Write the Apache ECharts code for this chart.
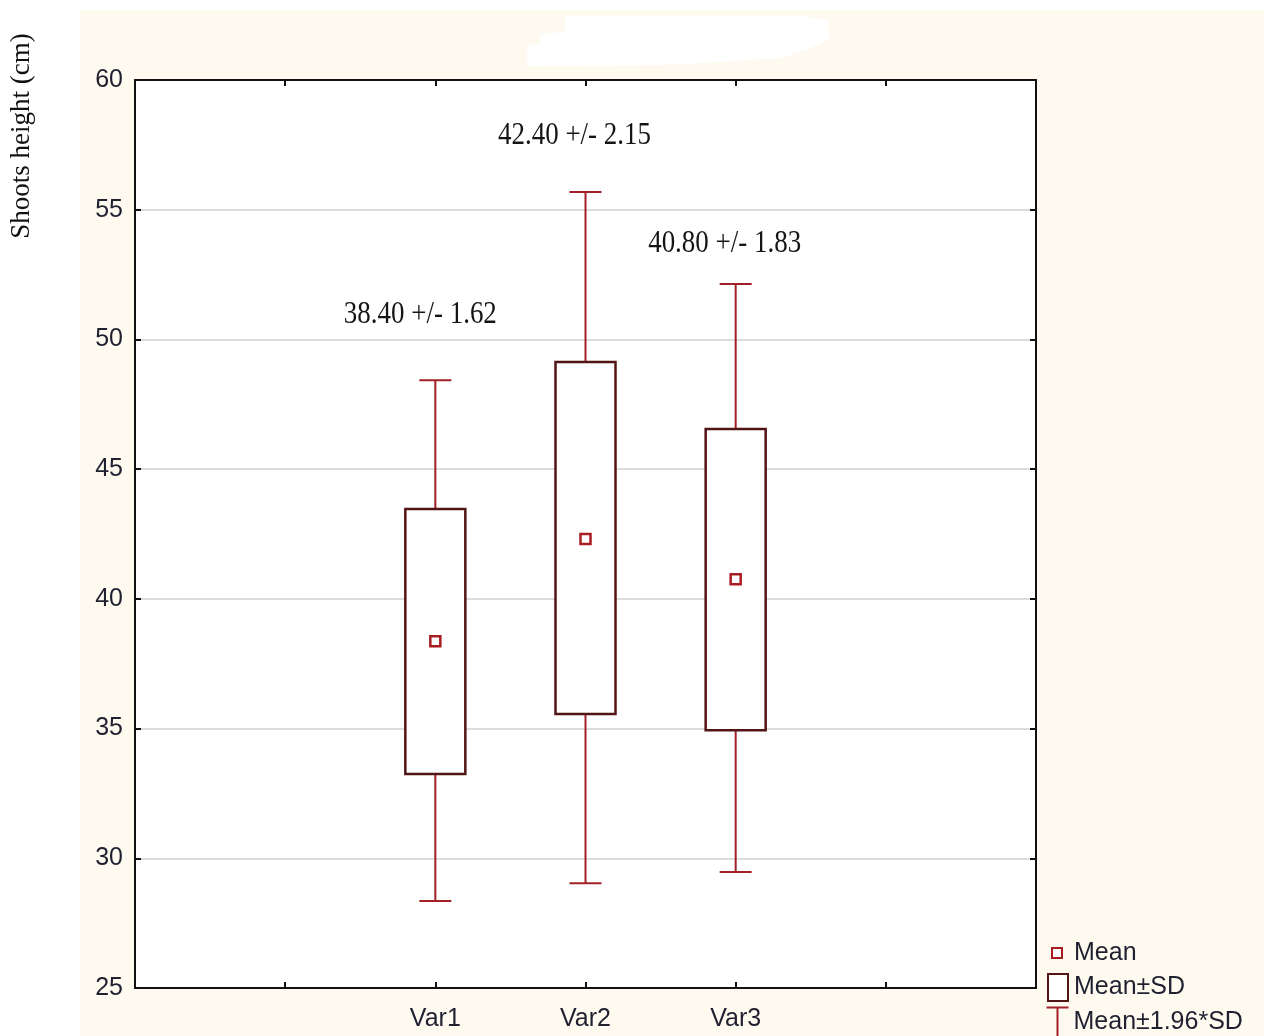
<!DOCTYPE html>
<html>
<head>
<meta charset="utf-8">
<script src="https://cdn.jsdelivr.net/npm/echarts@6/dist/echarts.min.js"></script>
<style>
html,body{margin:0;padding:0;background:#ffffff;}
#bg{position:absolute;left:80px;top:10px;right:0;bottom:0;background:#fefaf0;}
#chart{position:absolute;left:0;top:0;width:1264px;height:1036px;}
</style>
</head>
<body>
<div id="bg"></div>
<div id="chart"></div>
<script>
// ---- data ----
const categories = ['', '', 'Var1', 'Var2', 'Var3', '', ''];
const groupIndex = [2, 3, 4];
const means      = [38.37, 42.31, 40.76];
const sdLow      = [33.25, 35.56, 34.94];
const sdHigh     = [43.46, 49.13, 46.55];
const ciLow      = [28.35, 29.04, 29.47];
const ciHigh     = [48.43, 55.68, 52.14];
const annotText  = ['38.40 +/- 1.62', '42.40 +/- 2.15', '40.80 +/- 1.83'];
const annotY     = [50.95, 57.85, 53.7];
const yTicks     = { min: 25, max: 60, interval: 5 };

const WHISKER = '#a11f26';
const BOXLINE = '#521414';
const MEANCOL = '#a81c22';

const whiskerData = groupIndex.map((g, i) => [g, ciLow[i], sdLow[i], sdHigh[i], ciHigh[i]]);
const boxData = groupIndex.map((g, i) => [g, sdLow[i], sdHigh[i]]);
const meanData = groupIndex.map((g, i) => [g, means[i]]);
const annotData = groupIndex.map((g, i) => [g, annotY[i]]);

const chart = echarts.init(document.getElementById('chart'), null, { renderer: 'canvas' });

const sansFont = '"Liberation Sans", Arial, sans-serif';
const labelColor = '#1f2030';

const option = {
  backgroundColor: 'transparent',
  animation: false,
  grid: { left: 135, top: 80, right: 228, bottom: 48, show: true, backgroundColor: '#ffffff', borderWidth: 0 },
  graphic: [
    {
      type: 'polygon', z: 1,
      shape: { points: [[527,45],[540,44],[541,34],[565,32],[566,16],[800,16],[828,20],[829,40],[805,50],[780,58],[720,62],[660,65],[527,66]] },
      style: { fill: '#ffffff' }
    },
    {
      type: 'text', x: 22, y: 136, rotation: Math.PI / 2,
      style: { text: 'Shoots height (cm)', font: '27px "Liberation Serif", "Times New Roman", serif', fill: '#111', align: 'center', verticalAlign: 'middle' }
    }
  ],
  xAxis: [
    {
      type: 'category', data: categories, boundaryGap: false, position: 'bottom',
      axisLine: { lineStyle: { color: '#111', width: 2 } },
      axisTick: { inside: true, length: 6, interval: 0, lineStyle: { color: '#111', width: 2 } },
      axisLabel: { interval: 0, margin: 19, color: labelColor, fontSize: 25, fontFamily: sansFont },
      splitLine: { show: false }
    },
    {
      type: 'category', data: categories, boundaryGap: false, position: 'top',
      axisLine: { lineStyle: { color: '#111', width: 2 } },
      axisTick: { inside: true, length: 6, interval: 0, lineStyle: { color: '#111', width: 2 } },
      axisLabel: { show: false },
      splitLine: { show: false }
    }
  ],
  yAxis: [
    {
      type: 'value', min: yTicks.min, max: yTicks.max, interval: yTicks.interval, position: 'left',
      axisLine: { show: true, lineStyle: { color: '#111', width: 2 } },
      axisTick: { show: true, inside: true, length: 6, lineStyle: { color: '#111', width: 2 } },
      axisLabel: { margin: 12, color: labelColor, fontSize: 25, fontFamily: sansFont },
      splitLine: { show: true, lineStyle: { color: '#dcdcdc', width: 2 } }
    },
    {
      type: 'value', min: yTicks.min, max: yTicks.max, interval: yTicks.interval, position: 'right',
      axisLine: { show: true, lineStyle: { color: '#111', width: 2 } },
      axisTick: { show: true, inside: true, length: 6, lineStyle: { color: '#111', width: 2 } },
      axisLabel: { show: false },
      splitLine: { show: false }
    }
  ],
  legend: [
    {
      data: [{ name: 'Mean', icon: 'rect', itemStyle: { color: '#ffffff', borderColor: MEANCOL, borderWidth: 2 } }],
      left: 1051, top: 939, padding: 0, itemWidth: 10, itemHeight: 10, selectedMode: false, orient: 'vertical',
      textStyle: { fontSize: 25, lineHeight: 28, fontFamily: sansFont, color: labelColor, padding: [0, 0, 0, 7] }
    },
    {
      data: [{ name: 'Mean±SD', icon: 'rect', itemStyle: { color: '#ffffff', borderColor: BOXLINE, borderWidth: 2 } }],
      left: 1047, top: 973, padding: 0, itemWidth: 20, itemHeight: 27, selectedMode: false, orient: 'vertical',
      textStyle: { fontSize: 25, lineHeight: 28, fontFamily: sansFont, color: labelColor, padding: [0, 0, 0, 1] }
    },
    {
      data: [{ name: 'Mean±1.96*SD', icon: 'path://M0,0L22,0M11,0L11,30M0,30L22,30', itemStyle: { color: 'none', borderColor: WHISKER, borderWidth: 2 } }],
      left: 1044, top: 1005, padding: 0, itemWidth: 22, itemHeight: 30, selectedMode: false, orient: 'vertical',
      textStyle: { fontSize: 25, lineHeight: 28, fontFamily: sansFont, color: labelColor, padding: [0, 0, 0, 0] }
    }
  ],
  series: [
    {
      name: 'Mean±1.96*SD', type: 'custom', xAxisIndex: 0, yAxisIndex: 0, z: 3,
      itemStyle: { color: WHISKER },
      data: whiskerData,
      renderItem: function (params, api) {
        const x = api.value(0);
        const wl = api.coord([x, api.value(1)]);
        const bl = api.coord([x, api.value(2)]);
        const bh = api.coord([x, api.value(3)]);
        const wh = api.coord([x, api.value(4)]);
        const cap = 16;
        const st = { stroke: WHISKER, lineWidth: 2, fill: null };
        return {
          type: 'group',
          children: [
            { type: 'line', shape: { x1: bh[0], y1: bh[1], x2: wh[0], y2: wh[1] }, style: st },
            { type: 'line', shape: { x1: bl[0], y1: bl[1], x2: wl[0], y2: wl[1] }, style: st },
            { type: 'line', shape: { x1: wh[0] - cap, y1: wh[1], x2: wh[0] + cap, y2: wh[1] }, style: st },
            { type: 'line', shape: { x1: wl[0] - cap, y1: wl[1], x2: wl[0] + cap, y2: wl[1] }, style: st }
          ]
        };
      }
    },
    {
      name: 'Mean±SD', type: 'custom', xAxisIndex: 0, yAxisIndex: 0, z: 4,
      itemStyle: { color: BOXLINE },
      data: boxData,
      renderItem: function (params, api) {
        const x = api.value(0);
        const lo = api.coord([x, api.value(1)]);
        const hi = api.coord([x, api.value(2)]);
        const w = 60;
        return {
          type: 'rect',
          shape: { x: lo[0] - w / 2, y: hi[1], width: w, height: lo[1] - hi[1] },
          style: { fill: '#ffffff', stroke: BOXLINE, lineWidth: 2.5 }
        };
      }
    },
    {
      name: 'Mean', type: 'custom', xAxisIndex: 0, yAxisIndex: 0, z: 5,
      itemStyle: { color: MEANCOL },
      data: meanData,
      renderItem: function (params, api) {
        const p = api.coord([api.value(0), api.value(1)]);
        const s = 10;
        return {
          type: 'rect',
          shape: { x: p[0] - s / 2, y: p[1] - s / 2, width: s, height: s },
          style: { fill: '#ffffff', stroke: MEANCOL, lineWidth: 2.5 }
        };
      }
    },
    {
      name: 'annotations', type: 'custom', xAxisIndex: 0, yAxisIndex: 0, z: 6,
      data: annotData,
      renderItem: function (params, api) {
        const p = api.coord([api.value(0), api.value(1)]);
        const dx = params.dataIndex === 0 ? -15 : -11;
        return {
          type: 'text',
          x: p[0] + dx, y: p[1], scaleX: 0.87,
          style: {
            text: annotText[params.dataIndex],
            font: '31px "Liberation Serif", "Times New Roman", serif',
            fill: '#151515', align: 'center', verticalAlign: 'middle'
          }
        };
      }
    }
  ]
};

chart.setOption(option);
</script>
</body>
</html>
